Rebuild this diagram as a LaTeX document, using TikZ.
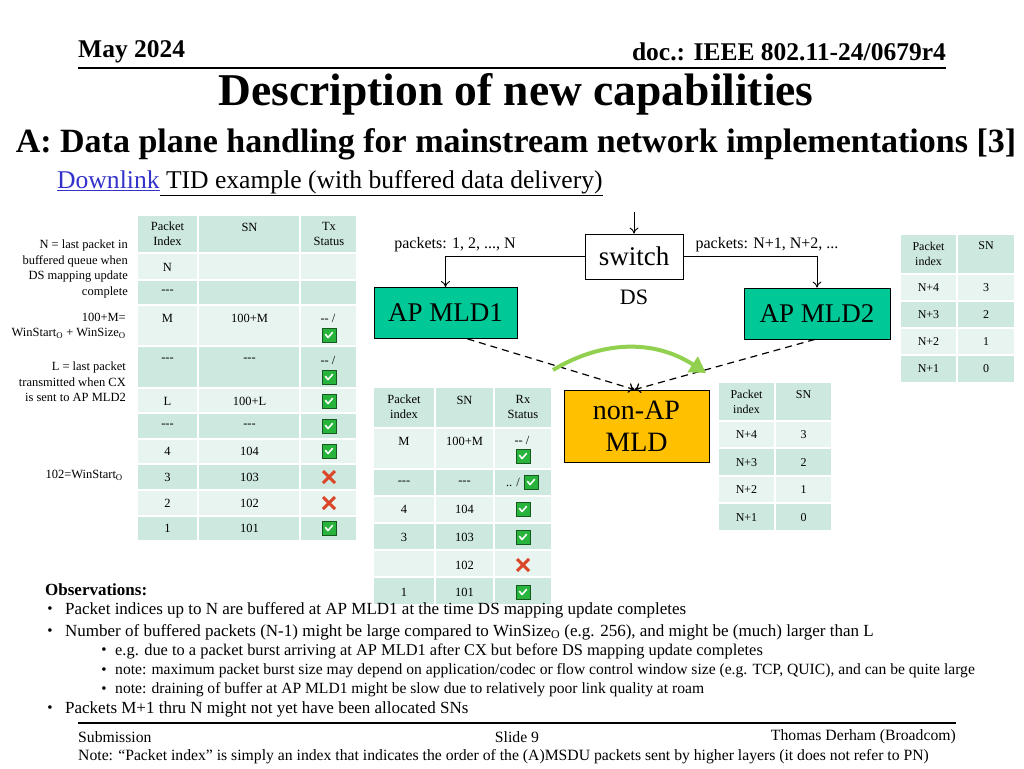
\documentclass[tikz,border=0pt]{standalone}
\usepackage{fontspec}
\setmainfont{Liberation Serif}
\usetikzlibrary{arrows.meta}
\definecolor{tabdark}{RGB}{205,232,222}
\definecolor{tablight}{RGB}{232,244,239}
\definecolor{apteal}{RGB}{0,200,150}
\definecolor{staorange}{RGB}{255,192,0}
\definecolor{roamgreen}{RGB}{146,208,80}
\definecolor{okgreen}{RGB}{40,180,60}
\definecolor{okedge}{RGB}{20,90,30}
\definecolor{nored}{RGB}{220,70,40}
\definecolor{linkblue}{RGB}{51,51,204}
\newcommand{\fsz}[2]{\fontsize{#1}{#2}\selectfont}
\newcommand{\hy}{-{}-{}-}
\newcommand{\WSo}{WinStart\textsubscript{O}}

\tikzset{
  cell/.style={font=\fsz{12.5}{15}, inner sep=0pt, align=center},
  sidenote/.style={font=\fsz{12.5}{15.5}, inner sep=0pt, align=right, anchor=east},
  mldbox/.style={draw, line width=0.8pt, inner sep=0pt, font=\fsz{27}{32}, align=center},
  obsline/.style={anchor=west, inner sep=0pt, font=\fsz{17}{20}},
  bulletmark/.style={inner sep=0pt, font=\fsz{15}{18}},
  footline/.style={inner sep=0pt, font=\fsz{15.7}{18}},
  okmark/.pic={
    \filldraw[fill=okgreen, draw=okedge, line width=0.8pt] (-7,-7) rectangle (7,7);
    \draw[white, line width=1.6pt, line cap=round, line join=round] (-3.5,-0.5) -- (-1,2.5) -- (3.5,-2.5);
  },
  nomark/.pic={
    \draw[nored, line width=3pt] (-6,-6) -- (6,6) (-6,6) -- (6,-6);
  }
}

\begin{document}
\begin{tikzpicture}[x=1pt, y=-1pt]
  \useasboundingbox (0,0) rectangle (1024,768);
  \fill[white] (0,0) rectangle (1024,768);

  % slide header
  \node[anchor=west, inner sep=0pt, font=\bfseries\fsz{25.5}{28}] (date) at (78,52) {May 2024};
  \node[anchor=east, inner sep=0pt, font=\bfseries\fsz{25.5}{28}] (docid) at (946,52) {doc.: IEEE 802.11-24/0679r4};
  \draw[line width=1.5pt] (78,68) -- (946,68);
  \node[inner sep=0pt, font=\bfseries\fsz{45.5}{50}] (title) at (516,94) {Description of new capabilities};
  \node[inner sep=0pt, font=\bfseries\fsz{34}{38}] (subtitle) at (516,144) {A: Data plane handling for mainstream network implementations [3]};
  \node[anchor=west, inner sep=0pt, font=\fsz{25.6}{28}] (case) at (57,183) {{\color{linkblue}\underline{Downlink}}\underline{ TID example (with buffered data delivery)}};

  % AP MLD1 tx table
  \foreach \ya/\yb/\rc in {215/253/tabdark, 253/280/tablight, 280/305/tabdark, 305/346/tablight, 346/388/tabdark, 388/413/tablight, 413/439/tabdark, 439/464/tablight, 464/490/tabdark, 490/516/tablight, 516/541/tabdark}
    \foreach \xa/\xb in {137/198, 198/300, 300/357}
      \filldraw[fill=\rc, draw=white, line width=1.5pt] (\xa,\ya) rectangle (\xb,\yb);
  \node[cell] (txhead1) at (167.5,234) {Packet\\Index};
  \node[cell] (txhead2) at (249.5,227) {SN};
  \node[cell] (txhead3) at (329,234) {Tx\\Status};
  \foreach \y/\a/\b [count=\i] in {267/N/{}, 292/\hy/{}, 318/M/100+M, 360/\hy/\hy, 401/L/100+L, 426/\hy/\hy, 451/4/104, 477/3/103, 503/2/102, 528/1/101} {
    \node[cell] (txidx\i) at (167.5,\y) {\a};
    \node[cell] (txsn\i) at (249.5,\y) {\b};
  }
  \node[cell] (txpend1) at (328,318) {-{}- /};
  \node[cell] (txpend2) at (328,360) {-{}- /};
  \foreach \y in {335, 377, 401, 426, 451, 528} \pic at (329,\y) {okmark};
  \foreach \y in {477, 503} \pic at (329,\y) {nomark};

  % notes beside the tx table
  \node[sidenote] (noteN) at (128,269) {N = last packet in\\buffered queue when\\DS mapping update\\complete};
  \node[sidenote] (noteM) at (126,326) {100+M=\\\WSo{} + WinSize\textsubscript{O}};
  \node[sidenote] (noteL) at (126,382) {L = last packet\\transmitted when CX\\is sent to AP MLD2};
  \node[sidenote] (noteW) at (123,475) {102=\WSo};

  % non-AP MLD rx table
  \foreach \ya/\yb/\rc in {387/428/tabdark, 428/469/tablight, 469/496/tabdark, 496/523/tablight, 523/550/tabdark, 550/577/tablight, 577/605/tabdark}
    \foreach \xa/\xb in {373/435, 435/494, 494/552}
      \filldraw[fill=\rc, draw=white, line width=1.5pt] (\xa,\ya) rectangle (\xb,\yb);
  \node[cell] (rxhead1) at (404,407) {Packet\\index};
  \node[cell] (rxhead2) at (464.5,400) {SN};
  \node[cell] (rxhead3) at (523,407) {Rx\\Status};
  \foreach \y/\a/\b [count=\i] in {441/M/100+M, 483/\hy/\hy, 509/4/104, 537/3/103, 565/{}/102, 592/1/101} {
    \node[cell] (rxidx\i) at (404,\y) {\a};
    \node[cell] (rxsn\i) at (464.5,\y) {\b};
  }
  \node[cell] (rxpend1) at (522,440) {-{}- /};
  \node[cell] (rxpend2) at (513,482) {.. /};
  \pic at (531,482) {okmark};
  \foreach \y in {456, 509, 537, 592} \pic at (523,\y) {okmark};
  \pic at (523,565) {nomark};

  % SN tables at AP MLD2 and at the non-AP MLD
  \foreach \ya/\yb/\rc in {234/274/tabdark, 274/301/tablight, 301/328/tabdark, 328/355/tablight, 355/383/tabdark}
    \foreach \xa/\xb in {900/957, 957/1015}
      \filldraw[fill=\rc, draw=white, line width=1.5pt] (\xa,\ya) rectangle (\xb,\yb);
  \foreach \ya/\yb/\rc in {382/421/tabdark, 421/448/tablight, 448/476/tabdark, 476/503/tablight, 503/531/tabdark}
    \foreach \xa/\xb in {718/775, 775/832}
      \filldraw[fill=\rc, draw=white, line width=1.5pt] (\xa,\ya) rectangle (\xb,\yb);
  \node[cell, font=\fsz{12}{15}] (aphead1) at (928.5,254) {Packet\\index};
  \node[cell, font=\fsz{12}{15}] (aphead2) at (986,246) {SN};
  \node[cell, font=\fsz{12}{15}] (stahead1) at (746.5,402) {Packet\\index};
  \node[cell, font=\fsz{12}{15}] (stahead2) at (803.5,395) {SN};
  \foreach \n/\s [count=\i] in {4/3, 3/2, 2/1, 1/0} {
    \node[cell, font=\fsz{12}{15}] (apidx\i) at (928.5,261+27*\i) {N+\n};
    \node[cell, font=\fsz{12}{15}] (apsn\i) at (986,261+27*\i) {\s};
    \node[cell, font=\fsz{12}{15}] (staidx\i) at (746.5,407.5+27.5*\i) {N+\n};
    \node[cell, font=\fsz{12}{15}] (stasn\i) at (803.5,407.5+27.5*\i) {\s};
  }

  % DS and MLDs
  \node[mldbox, minimum width=98pt, minimum height=45pt] (switch) at (634,256.5) {switch};
  \node[mldbox, fill=apteal, minimum width=143pt, minimum height=51pt] (ap1) at (445.5,313) {AP MLD1};
  \node[mldbox, fill=apteal, minimum width=146pt, minimum height=51pt] (ap2) at (817,313.5) {AP MLD2};
  \node[mldbox, fill=staorange, minimum width=145pt, minimum height=72pt, font=\fsz{28}{32}] (npmld) at (636.5,426) {non-AP\\MLD};
  \node[inner sep=0pt, font=\fsz{22}{26}] (dslabel) at (634,297) {DS};
  \node[inner sep=0pt, font=\fsz{16}{19}] (pkts1) at (455,245) {packets: 1, 2, ..., N};
  \node[inner sep=0pt, font=\fsz{16}{19}] (pkts2) at (767,245) {packets: N+1, N+2, ...};
  \coordinate (dsin) at (634,212);
  \coordinate (roamfrom) at (553,370);
  \coordinate (roamto) at (706,373);

  \draw[-{To[length=6pt,width=9pt]}, line width=0.9pt] (dsin) -- (switch);
  \draw[-{To[length=6pt,width=9pt]}, line width=0.9pt] (switch.west) -| (ap1.north);
  \draw[-{To[length=6pt,width=9pt]}, line width=0.9pt] (switch.east) -| (ap2.north);
  \draw[dashed, dash pattern=on 7pt off 5pt, line width=1.2pt, -{To[length=6pt,width=10pt]}] ([xshift=22pt]ap1.south) -- ([xshift=-2pt]npmld.north);
  \draw[dashed, dash pattern=on 7pt off 5pt, line width=1.2pt, -{To[length=6pt,width=10pt]}] ([xshift=-2pt]ap2.south) -- ([xshift=-2pt]npmld.north);
  \draw[roamgreen, line width=4pt, -{Triangle[length=16pt,width=18pt]}] (roamfrom) to[bend left=32] (roamto);

  % observations
  \node[anchor=west, inner sep=0pt, font=\bfseries\fsz{17}{20}] (obshead) at (45,590) {Observations:};
  \node[bulletmark] (b1) at (50,610) {\textbullet};
  \node[obsline] (obs1) at (65,610) {Packet indices up to N are buffered at AP MLD1 at the time DS mapping update completes};
  \node[bulletmark] (b2) at (50,632) {\textbullet};
  \node[obsline] (obs2) at (65,632) {Number of buffered packets (N-1) might be large compared to WinSize\textsubscript{O} (e.g. 256), and might be (much) larger than L};
  \node[bulletmark] (b3) at (104,651) {\textbullet};
  \node[obsline, font=\fsz{16.4}{19}] (obs3) at (115,651) {e.g. due to a packet burst arriving at AP MLD1 after CX but before DS mapping update completes};
  \node[bulletmark] (b4) at (104,671) {\textbullet};
  \node[obsline, font=\fsz{15.6}{18}] (obs4) at (115,671) {note: maximum packet burst size may depend on application/codec or flow control window size (e.g. TCP, QUIC), and can be quite large};
  \node[bulletmark] (b5) at (104,690) {\textbullet};
  \node[obsline, font=\fsz{15.6}{18}] (obs5) at (115,690) {note: draining of buffer at AP MLD1 might be slow due to relatively poor link quality at roam};
  \node[bulletmark] (b6) at (50,709) {\textbullet};
  \node[obsline] (obs6) at (65,709) {Packets M+1 thru N might not yet have been allocated SNs};

  % slide footer
  \draw[line width=1.5pt] (78,723) -- (956,723);
  \node[footline, anchor=west] (subm) at (78,737) {Submission};
  \node[footline] (slideno) at (517,737) {Slide 9};
  \node[footline, anchor=east] (author) at (956,737) {Thomas Derham (Broadcom)};
  \node[footline, anchor=west] (pidxnote) at (78,757) {Note: “Packet index” is simply an index that indicates the order of the (A)MSDU packets sent by higher layers (it does not refer to PN)};
\end{tikzpicture}
\end{document}
